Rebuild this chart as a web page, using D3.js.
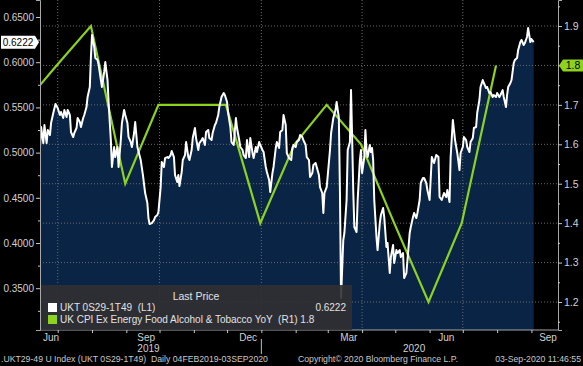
<!DOCTYPE html>
<html>

<head>
    <meta charset="utf-8">
    <style>
        body {
            margin: 0;
            background: #000;
        }

        svg {
            display: block;
            font-family: 'Liberation Sans', Arial, sans-serif;
        }

        .axis .domain {
            stroke: #a8a8a8;
        }

        .axis .tick line {
            stroke: #c8c8c8;
        }

        .axis .tick text {
            fill: #d0d0d0;
            font-size: 10px;
        }

        .grid line {
            stroke: #6a6a6a;
            stroke-dasharray: 1, 2;
        }

        .month-label,
        .year-label {
            fill: #d0d0d0;
            font-size: 10px;
        }

        .foot {
            fill: #c8c8c8;
            font-size: 8.7px;
        }

        .legend-text {
            fill: #e2e2e2;
            font-size: 10px;
        }
    </style>
</head>

<body>
    <svg width="583" height="366"></svg>

    <script src="https://d3js.org/d3.v7.min.js"></script>

    <script>
        // UKT 0S29-1T49 (daily, L1)
        let priceData = [
            ["2019-06-15", 0.5062], ["2019-06-16", 0.5283], ["2019-06-18", 0.5106], ["2019-06-19", 0.5305],
            ["2019-06-21", 0.5106], ["2019-06-22", 0.5250], ["2019-06-24", 0.5195], ["2019-06-25", 0.5327],
            ["2019-06-27", 0.5438], ["2019-06-29", 0.5538], ["2019-07-01", 0.5493], ["2019-07-03", 0.5416],
            ["2019-07-04", 0.5449], ["2019-07-06", 0.5383], ["2019-07-07", 0.5471], ["2019-07-09", 0.5394],
            ["2019-07-10", 0.5471], ["2019-07-12", 0.5416], ["2019-07-13", 0.5228], ["2019-07-15", 0.5173],
            ["2019-07-16", 0.5217], ["2019-07-18", 0.5272], ["2019-07-19", 0.5383], ["2019-07-21", 0.5338],
            ["2019-07-22", 0.5283], ["2019-07-24", 0.5383], ["2019-07-25", 0.5416], ["2019-07-27", 0.5504],
            ["2019-07-28", 0.5615], ["2019-07-30", 0.5726], ["2019-07-31", 0.6057], ["2019-08-01", 0.6301],
            ["2019-08-03", 0.6168], ["2019-08-04", 0.6046], ["2019-08-06", 0.6024], ["2019-08-07", 0.5969],
            ["2019-08-09", 0.5803], ["2019-08-10", 0.5726], ["2019-08-12", 0.5892], ["2019-08-13", 0.6002],
            ["2019-08-15", 0.5803], ["2019-08-16", 0.5549], ["2019-08-18", 0.5139], ["2019-08-19", 0.4841],
            ["2019-08-21", 0.5062], ["2019-08-22", 0.4951], ["2019-08-24", 0.5062], ["2019-08-25", 0.4841],
            ["2019-08-27", 0.5139], ["2019-08-28", 0.5327], ["2019-08-30", 0.5471], ["2019-08-31", 0.5416],
            ["2019-09-02", 0.5327], ["2019-09-03", 0.5173], ["2019-09-05", 0.5117], ["2019-09-06", 0.5062],
            ["2019-09-08", 0.5217], ["2019-09-09", 0.5338], ["2019-09-11", 0.5062], ["2019-09-14", 0.4918],
            ["2019-09-16", 0.4752], ["2019-09-18", 0.4553], ["2019-09-20", 0.4442], ["2019-09-21", 0.4276],
            ["2019-09-22", 0.4210], ["2019-09-24", 0.4221], ["2019-09-26", 0.4254], ["2019-09-27", 0.4288],
            ["2019-09-29", 0.4310], ["2019-09-30", 0.4343], ["2019-10-02", 0.4619], ["2019-10-03", 0.4896],
            ["2019-10-05", 0.4841], ["2019-10-06", 0.4940], ["2019-10-08", 0.4951], ["2019-10-09", 0.4940],
            ["2019-10-11", 0.4973], ["2019-10-12", 0.5018], ["2019-10-14", 0.4951], ["2019-10-15", 0.4752],
            ["2019-10-17", 0.4675], ["2019-10-18", 0.4752], ["2019-10-19", 0.4630], ["2019-10-21", 0.4785],
            ["2019-10-22", 0.4918], ["2019-10-24", 0.4973], ["2019-10-25", 0.5117], ["2019-10-27", 0.4951],
            ["2019-10-28", 0.4918], ["2019-10-30", 0.5029], ["2019-10-31", 0.5161], ["2019-11-02", 0.5272],
            ["2019-11-03", 0.5161], ["2019-11-05", 0.5029], ["2019-11-06", 0.5106], ["2019-11-08", 0.5139],
            ["2019-11-09", 0.5161], ["2019-11-11", 0.5084], ["2019-11-12", 0.5228], ["2019-11-14", 0.5250],
            ["2019-11-15", 0.5161], ["2019-11-17", 0.5139], ["2019-11-18", 0.5217], ["2019-11-20", 0.5305],
            ["2019-11-21", 0.5327], ["2019-11-23", 0.5416], ["2019-11-24", 0.5504], ["2019-11-26", 0.5615],
            ["2019-11-28", 0.5659], ["2019-11-29", 0.5637], ["2019-12-01", 0.5560], ["2019-12-02", 0.5438],
            ["2019-12-04", 0.5283], ["2019-12-05", 0.5117], ["2019-12-07", 0.5084], ["2019-12-09", 0.5383],
            ["2019-12-10", 0.5272], ["2019-12-12", 0.5139], ["2019-12-13", 0.5062], ["2019-12-15", 0.5029],
            ["2019-12-16", 0.4973], ["2019-12-18", 0.4940], ["2019-12-19", 0.5139], ["2019-12-21", 0.4951],
            ["2019-12-22", 0.5161], ["2019-12-24", 0.4996], ["2019-12-25", 0.4940], ["2019-12-27", 0.5062],
            ["2019-12-28", 0.5007], ["2019-12-30", 0.5117], ["2019-12-31", 0.5084], ["2020-01-02", 0.5029],
            ["2020-01-03", 0.5007], ["2020-01-05", 0.4841], ["2020-01-06", 0.4785], ["2020-01-08", 0.4697],
            ["2020-01-09", 0.4564], ["2020-01-11", 0.4774], ["2020-01-12", 0.4841], ["2020-01-14", 0.5051],
            ["2020-01-15", 0.5117], ["2020-01-17", 0.5051], ["2020-01-18", 0.5228], ["2020-01-20", 0.5250],
            ["2020-01-21", 0.5416], ["2020-01-23", 0.5305], ["2020-01-24", 0.4996], ["2020-01-26", 0.4940],
            ["2020-01-28", 0.4918], ["2020-01-29", 0.5051], ["2020-01-30", 0.5084], ["2020-02-01", 0.5062],
            ["2020-02-02", 0.5117], ["2020-02-04", 0.5139], ["2020-02-05", 0.5195], ["2020-02-07", 0.5173],
            ["2020-02-08", 0.5139], ["2020-02-10", 0.5084], ["2020-02-11", 0.4951], ["2020-02-13", 0.4918],
            ["2020-02-14", 0.4730], ["2020-02-16", 0.4774], ["2020-02-17", 0.4863], ["2020-02-19", 0.4885],
            ["2020-02-20", 0.4841], ["2020-02-22", 0.4752], ["2020-02-23", 0.4619], ["2020-02-25", 0.4553],
            ["2020-02-26", 0.4332], ["2020-02-27", 0.4553], ["2020-02-29", 0.4619], ["2020-03-01", 0.4752],
            ["2020-03-03", 0.5029], ["2020-03-04", 0.5217], ["2020-03-06", 0.5383], ["2020-03-08", 0.5471],
            ["2020-03-09", 0.5560], ["2020-03-11", 0.5383], ["2020-03-12", 0.4553], ["2020-03-13", 0.3392],
            ["2020-03-15", 0.4033], ["2020-03-16", 0.4111], ["2020-03-18", 0.4476], ["2020-03-19", 0.5029],
            ["2020-03-21", 0.5117], ["2020-03-22", 0.5692], ["2020-03-23", 0.5173], ["2020-03-24", 0.4586],
            ["2020-03-25", 0.4177], ["2020-03-27", 0.4122], ["2020-03-28", 0.4476], ["2020-03-30", 0.4918],
            ["2020-03-31", 0.5029], ["2020-04-01", 0.4774], ["2020-04-03", 0.4951], ["2020-04-04", 0.5250],
            ["2020-04-05", 0.5029], ["2020-04-06", 0.4951], ["2020-04-08", 0.5084], ["2020-04-09", 0.5007],
            ["2020-04-10", 0.5051], ["2020-04-11", 0.4918], ["2020-04-12", 0.4476], ["2020-04-14", 0.4066],
            ["2020-04-15", 0.3922], ["2020-04-17", 0.4221], ["2020-04-18", 0.4310], ["2020-04-20", 0.4387],
            ["2020-04-21", 0.4288], ["2020-04-23", 0.3956], ["2020-04-24", 0.4000], ["2020-04-26", 0.3668],
            ["2020-04-27", 0.3845], ["2020-04-29", 0.3978], ["2020-04-30", 0.3779], ["2020-05-02", 0.3922],
            ["2020-05-03", 0.3889], ["2020-05-05", 0.3922], ["2020-05-06", 0.3845], ["2020-05-08", 0.3889],
            ["2020-05-09", 0.3613], ["2020-05-11", 0.3668], ["2020-05-12", 0.3812], ["2020-05-14", 0.4111],
            ["2020-05-15", 0.4177], ["2020-05-17", 0.4288], ["2020-05-18", 0.4332], ["2020-05-20", 0.4276],
            ["2020-05-21", 0.4332], ["2020-05-23", 0.4476], ["2020-05-24", 0.4664], ["2020-05-26", 0.4719],
            ["2020-05-27", 0.4719], ["2020-05-29", 0.4664], ["2020-05-30", 0.4586], ["2020-06-01", 0.4476],
            ["2020-06-03", 0.4951], ["2020-06-05", 0.4885], ["2020-06-07", 0.4973], ["2020-06-09", 0.4951],
            ["2020-06-10", 0.4509], ["2020-06-12", 0.4476], ["2020-06-14", 0.4553], ["2020-06-16", 0.4509],
            ["2020-06-17", 0.4586], ["2020-06-19", 0.4454], ["2020-06-20", 0.4951], ["2020-06-22", 0.5361],
            ["2020-06-24", 0.5139], ["2020-06-26", 0.4996], ["2020-06-28", 0.4807], ["2020-06-29", 0.4996],
            ["2020-07-01", 0.5062], ["2020-07-02", 0.5173], ["2020-07-04", 0.5139], ["2020-07-05", 0.5062],
            ["2020-07-07", 0.5007], ["2020-07-08", 0.5117], ["2020-07-10", 0.5161], ["2020-07-11", 0.5272],
            ["2020-07-13", 0.5283], ["2020-07-14", 0.5438], ["2020-07-16", 0.5582], ["2020-07-17", 0.5726],
            ["2020-07-19", 0.5803], ["2020-07-20", 0.5770], ["2020-07-22", 0.5715], ["2020-07-23", 0.5726],
            ["2020-07-25", 0.5659], ["2020-07-26", 0.5670], ["2020-07-28", 0.5615], ["2020-07-29", 0.5637],
            ["2020-07-31", 0.5615], ["2020-08-01", 0.5659], ["2020-08-03", 0.5615], ["2020-08-04", 0.5637],
            ["2020-08-06", 0.5692], ["2020-08-07", 0.5615], ["2020-08-09", 0.5504], ["2020-08-10", 0.5637],
            ["2020-08-11", 0.5726], ["2020-08-13", 0.5770], ["2020-08-14", 0.5803], ["2020-08-16", 0.5991],
            ["2020-08-17", 0.6024], ["2020-08-19", 0.6046], ["2020-08-20", 0.6135], ["2020-08-22", 0.6223],
            ["2020-08-23", 0.6246], ["2020-08-25", 0.6190], ["2020-08-26", 0.6212], ["2020-08-28", 0.6279],
            ["2020-08-29", 0.6378], ["2020-08-30", 0.6301], ["2020-08-31", 0.6223], ["2020-09-01", 0.6257],
            ["2020-09-03", 0.6222]
        ]

        // UK CPI Ex Energy Food Alcohol & Tobacco YoY (monthly, R1)
        let cpiData = [
            ["2019-05-31", 1.7], ["2019-06-30", 1.8], ["2019-07-31", 1.9], ["2019-08-31", 1.5],
            ["2019-09-30", 1.7], ["2019-10-31", 1.7], ["2019-11-30", 1.7], ["2019-12-31", 1.4],
            ["2020-01-31", 1.6], ["2020-02-29", 1.7], ["2020-03-31", 1.6], ["2020-04-30", 1.4],
            ["2020-05-31", 1.2], ["2020-06-30", 1.4], ["2020-07-31", 1.8]
        ]

        let leftTicks = [0.35, 0.40, 0.45, 0.50, 0.55, 0.60, 0.65]
        let leftMinor = [0.325, 0.375, 0.425, 0.475, 0.525, 0.575, 0.625]
        let rightTicks = [1.2, 1.3, 1.4, 1.5, 1.6, 1.7, 1.8, 1.9]
        let rightMinor = [1.15, 1.25, 1.35, 1.45, 1.55, 1.65, 1.75, 1.85, 1.95]
        let gridDates = ["2019-07-01", "2019-10-01", "2020-01-01", "2020-04-01", "2020-07-01"]
        let monthLabels = [
            ["2019-06-25", "Jun"], ["2019-09-19", "Sep"], ["2019-12-20", "Dec"],
            ["2020-03-20", "Mar"], ["2020-06-16", "Jun"], ["2020-09-16", "Sep"]
        ]
        let yearLabels = [["2019-09-21", "2019"], ["2020-05-18", "2020"]]
        let yearBreak = "2020-01-01"

        let lastPrice = 0.6222
        let lastCpi = 1.8

        let parse = d3.timeParse("%Y-%m-%d")
        let price = priceData.map(d => ({ date: parse(d[0]), value: d[1] }))
        let cpi = cpiData.map(d => ({ date: parse(d[0]), value: d[1] }))

        let width = 583
        let height = 366
        let margin = { top: 0, right: 25, bottom: 36, left: 40 }
        let plotBottom = height - margin.bottom
        let plotRight = width - margin.right

        let svg = d3.select("svg")

        let x = d3.scaleTime()
            .domain([parse("2019-06-15"), parse("2020-09-25")])
            .range([margin.left, plotRight])

        let yL = d3.scaleLinear()
            .domain([0.3038, 0.6688])
            .range([plotBottom, margin.top])

        let yR = d3.scaleLinear()
            .domain([1.129, 1.966])
            .range([plotBottom, margin.top])

        svg.append("defs").append("clipPath")
            .attr("id", "plot-clip")
            .append("rect")
            .attr("x", margin.left)
            .attr("y", margin.top)
            .attr("width", plotRight - margin.left)
            .attr("height", plotBottom - margin.top)

        svg.append("rect")
            .attr("width", width)
            .attr("height", height)
            .attr("fill", "#000")

        // area under the spread
        let area = d3.area()
            .x(d => x(d.date))
            .y0(plotBottom)
            .y1(d => yL(d.value))

        svg.append("path")
            .datum(price)
            .attr("clip-path", "url(#plot-clip)")
            .attr("fill", "#0a2445")
            .attr("d", area)

        // grid
        let grid = svg.append("g").attr("class", "grid")

        grid.selectAll(".h")
            .data(rightTicks)
            .join("line")
            .attr("x1", margin.left)
            .attr("x2", plotRight)
            .attr("y1", d => yR(d))
            .attr("y2", d => yR(d))

        grid.selectAll(".v")
            .data(gridDates)
            .join("line")
            .attr("x1", d => x(parse(d)))
            .attr("x2", d => x(parse(d)))
            .attr("y1", margin.top)
            .attr("y2", plotBottom)

        // lines
        let priceLine = d3.line()
            .x(d => x(d.date))
            .y(d => yL(d.value))

        let cpiLine = d3.line()
            .x(d => x(d.date))
            .y(d => yR(d.value))

        svg.append("path")
            .datum(cpi)
            .attr("clip-path", "url(#plot-clip)")
            .attr("fill", "none")
            .attr("stroke", "#8cd21e")
            .attr("stroke-width", 2.2)
            .attr("d", cpiLine)

        svg.append("path")
            .datum(price)
            .attr("clip-path", "url(#plot-clip)")
            .attr("fill", "none")
            .attr("stroke", "#fff")
            .attr("stroke-width", 2)
            .attr("stroke-linejoin", "round")
            .attr("d", priceLine)

        // axes
        svg.append("g")
            .attr("class", "axis")
            .attr("transform", `translate(${margin.left},0)`)
            .call(d3.axisLeft(yL).tickValues(leftTicks).tickSize(4).tickPadding(2).tickFormat(d3.format(".4f")))

        svg.append("g")
            .attr("class", "axis")
            .attr("transform", `translate(${margin.left},0)`)
            .call(d3.axisLeft(yL).tickValues(leftMinor).tickSize(2).tickFormat(""))
            .call(g => g.select(".domain").remove())

        // the 1.8 label sits under the last-value tag, so drop it
        svg.append("g")
            .attr("class", "axis")
            .attr("transform", `translate(${plotRight},0)`)
            .call(d3.axisRight(yR).tickValues(rightTicks).tickSize(4).tickPadding(2).tickFormat(d3.format(".1f")))
            .call(g => g.selectAll(".tick text").style("font-size", "10.5px"))
            .call(g => g.selectAll(".tick").filter(d => d === lastCpi).select("text").remove())

        svg.append("g")
            .attr("class", "axis")
            .attr("transform", `translate(${plotRight},0)`)
            .call(d3.axisRight(yR).tickValues(rightMinor).tickSize(2).tickFormat(""))
            .call(g => g.select(".domain").remove())

        svg.append("g")
            .attr("class", "axis")
            .attr("transform", `translate(0,${plotBottom})`)
            .call(d3.axisBottom(x).ticks(d3.timeMonth.every(1)).tickSize(3).tickFormat(""))
            .call(g => g.select(".domain").attr("d", `M${margin.left},0H${plotRight}`))

        svg.append("line")
            .attr("x1", x(parse(yearBreak)))
            .attr("x2", x(parse(yearBreak)))
            .attr("y1", plotBottom + 9)
            .attr("y2", plotBottom + 24)
            .attr("stroke", "#bbb")

        svg.selectAll(".month-label")
            .data(monthLabels)
            .join("text")
            .attr("class", "month-label")
            .attr("x", d => x(parse(d[0])))
            .attr("y", plotBottom + 11)
            .attr("text-anchor", "middle")
            .text(d => d[1])

        svg.selectAll(".year-label")
            .data(yearLabels)
            .join("text")
            .attr("class", "year-label")
            .attr("x", d => x(parse(d[0])))
            .attr("y", plotBottom + 22)
            .attr("text-anchor", "middle")
            .text(d => d[1])

        // last value tags
        let ly = yL(lastPrice)
        svg.append("path")
            .attr("d", `M1,${ly - 6.5}H35L39,${ly}L35,${ly + 6.5}H1Z`)
            .attr("fill", "#fff")
        svg.append("text")
            .attr("x", 18)
            .attr("y", ly + 3.5)
            .attr("text-anchor", "middle")
            .style("font-size", "10px")
            .attr("fill", "#000")
            .text(d3.format(".4f")(lastPrice))

        let ry = yR(lastCpi)
        svg.append("path")
            .attr("d", `M${plotRight + 1},${ry}L${plotRight + 5},${ry - 6}H583V${ry + 6}H${plotRight + 5}Z`)
            .attr("fill", "#8cd21e")
        svg.append("text")
            .attr("x", plotRight + 15)
            .attr("y", ry + 4)
            .attr("text-anchor", "middle")
            .style("font-size", "10.5px")
            .attr("fill", "#000")
            .text(d3.format(".1f")(lastCpi))

        // legend
        let legend = svg.append("g")

        legend.append("rect")
            .attr("x", margin.left + 1)
            .attr("y", 285)
            .attr("width", 311)
            .attr("height", plotBottom - 285)
            .attr("fill", "rgba(48,48,50,0.9)")

        legend.append("text")
            .attr("class", "legend-text")
            .attr("x", 196)
            .attr("y", 300)
            .attr("text-anchor", "middle")
            .style("font-size", "10.5px")
            .text("Last Price")

        let legendItems = [
            { color: "#fff", label: "UKT 0S29-1T49  (L1)", value: d3.format(".4f")(lastPrice) },
            { color: "#8cd21e", label: "UK CPI Ex Energy Food Alcohol & Tobacco YoY  (R1) 1.8", value: "" }
        ]

        legend.selectAll(".sw")
            .data(legendItems)
            .join("rect")
            .attr("x", 48)
            .attr("y", (d, i) => 303 + i * 12)
            .attr("width", 9)
            .attr("height", 9)
            .attr("fill", d => d.color)

        legend.selectAll(".lbl")
            .data(legendItems)
            .join("text")
            .attr("class", "legend-text")
            .attr("x", 60)
            .attr("y", (d, i) => 311 + i * 12)
            .style("white-space", "pre")
            .text(d => d.label)

        legend.selectAll(".val")
            .data(legendItems)
            .join("text")
            .attr("class", "legend-text")
            .attr("x", 346)
            .attr("y", (d, i) => 311 + i * 12)
            .attr("text-anchor", "end")
            .text(d => d.value)

        // footer
        svg.append("text")
            .attr("class", "foot")
            .attr("x", 1)
            .attr("y", 362)
            .style("white-space", "pre")
            .text(".UKT29-49 U Index (UKT 0S29-1T49)  Daily 04FEB2019-03SEP2020")

        svg.append("text")
            .attr("class", "foot")
            .attr("x", 298)
            .attr("y", 362)
            .text("Copyright\u00a9 2020 Bloomberg Finance L.P.")

        svg.append("text")
            .attr("class", "foot")
            .attr("x", 581)
            .attr("y", 362)
            .attr("text-anchor", "end")
            .text("03-Sep-2020 11:46:55")
    </script>
</body>

</html>
